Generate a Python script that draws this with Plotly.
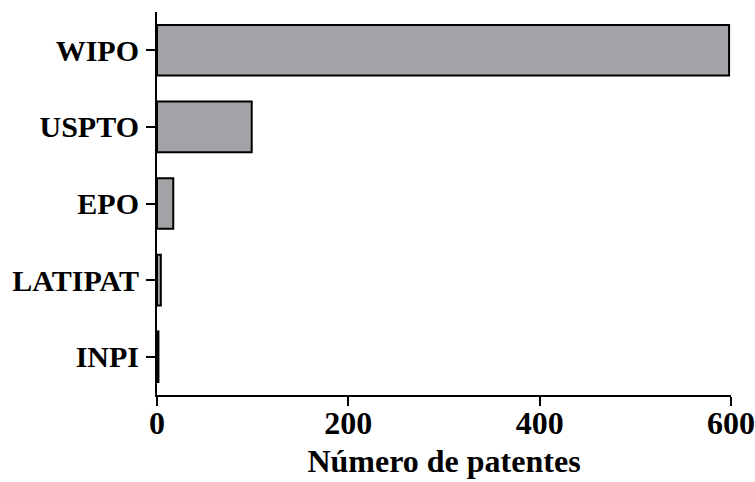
import plotly.graph_objects as go

categories = ["WIPO", "USPTO", "EPO", "LATIPAT", "INPI"]
patents = [598, 99, 17, 4, 1.5]
x_ticks = [0, 200, 400, 600]

font_family = "Liberation Serif, Times New Roman, serif"

fig = go.Figure(go.Bar(
    x=patents,
    y=categories,
    orientation="h",
    width=0.66,
    marker=dict(color="#a3a2a6", line=dict(color="black", width=2)),
))

fig.update_layout(
    width=755, height=482,
    margin=dict(l=157, r=24, t=12, b=87, autoexpand=False),
    plot_bgcolor="white", paper_bgcolor="white",
    showlegend=False,
    font=dict(family=font_family, color="black"),
)
fig.update_xaxes(
    range=[0, 600],
    tickvals=x_ticks,
    ticktext=[f"<b>{v}</b>" for v in x_ticks],
    ticks="outside", ticklen=9, tickwidth=2, tickcolor="black",
    showline=True, linecolor="black", linewidth=2,
    showgrid=False, zeroline=False, automargin=False,
    ticklabelstandoff=-10,
    ticklabeloverflow="allow",
    tickfont=dict(size=32, family=font_family),
    title=dict(text="<b>Número de patentes</b>", font=dict(size=32, family=font_family), standoff=9),
)
fig.update_yaxes(
    categoryorder="array", categoryarray=categories,
    autorange=False, range=[4.5, -0.5],
    tickvals=categories,
    ticktext=[f"<b>{c}</b>" for c in categories],
    ticks="outside", ticklen=9, tickwidth=2, tickcolor="black",
    showline=True, linecolor="black", linewidth=2,
    showgrid=False, zeroline=False, automargin=False,
    ticklabelstandoff=1,
    tickfont=dict(size=30, family=font_family),
)

fig.write_html(
    "out.html",
    config={"displayModeBar": False},
    post_script="document.body.style.margin='0';document.body.style.overflow='hidden';",
)
